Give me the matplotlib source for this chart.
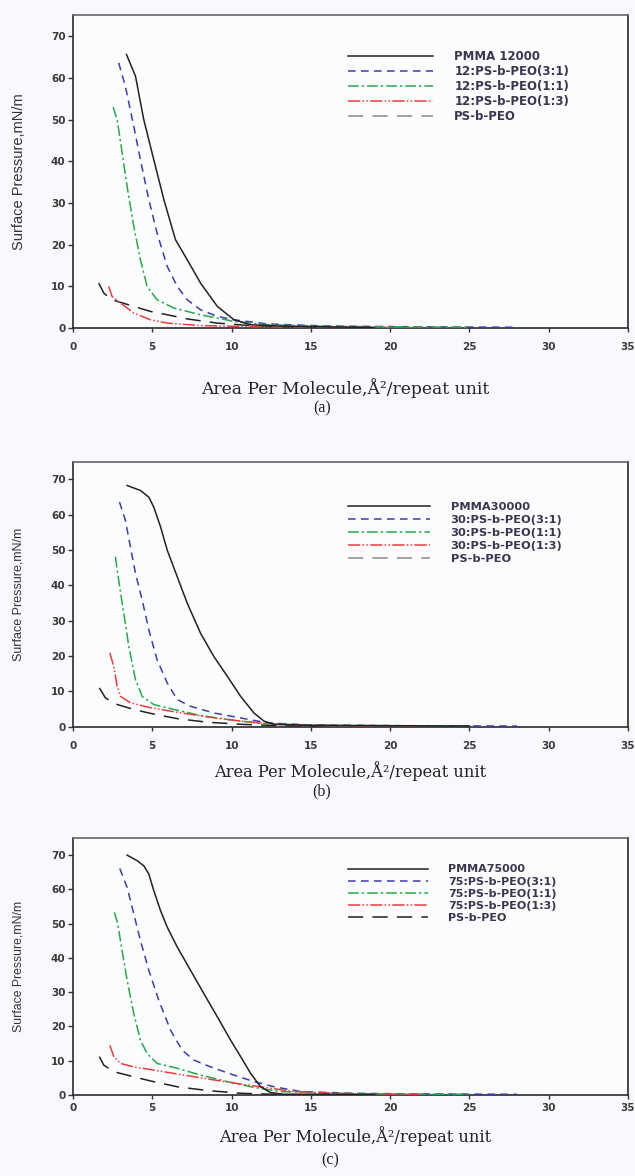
import matplotlib
matplotlib.use("Agg")
import matplotlib.pyplot as plt

# ---- data (x: area per molecule, y: surface pressure) ----
# panel (a)
a_labels = ["PMMA 12000", "12:PS-b-PEO(3:1)", "12:PS-b-PEO(1:1)", "12:PS-b-PEO(1:3)", "PS-b-PEO"]
a_pmma_x = [3.37, 3.94, 4.46, 5.09, 5.73, 6.46, 7.2, 8.04, 9.1, 10.15, 11.2, 13.0, 16.0, 19.0]
a_pmma_y = [65.6, 60.4, 50.0, 40.4, 30.8, 21.2, 16.4, 10.8, 5.2, 2.0, 0.8, 0.5, 0.3, 0.15]
a_31_x = [2.88, 3.3, 3.83, 4.25, 4.78, 5.3, 5.94, 6.57, 7.2, 8.04, 9.1, 10.15, 12.25, 16.0, 22.0, 28.0]
a_31_y = [63.6, 58.0, 48.4, 40.4, 30.8, 22.8, 14.8, 10.0, 6.8, 4.4, 2.8, 2.0, 1.0, 0.5, 0.3, 0.2]
a_11_x = [2.53, 2.78, 3.1, 3.41, 3.83, 4.25, 4.67, 5.3, 6.36, 8.04, 10.15, 12.25, 16.0, 20.0, 25.0]
a_11_y = [53.0, 50.0, 42.0, 34.0, 24.4, 16.4, 10.0, 6.8, 4.8, 3.2, 1.6, 0.8, 0.4, 0.3, 0.2]
a_13_x = [2.25, 2.46, 3.0, 3.83, 4.88, 5.94, 8.04, 12.0, 17.0, 22.0]
a_13_y = [10.0, 7.6, 6.0, 3.6, 2.0, 1.2, 0.6, 0.3, 0.2, 0.1]
a_peo_x = [1.62, 1.94, 2.46, 3.83, 4.88, 5.94, 7.2, 9.1, 11.2, 13.5, 16.0]
a_peo_y = [10.8, 8.4, 6.8, 5.2, 4.0, 3.2, 2.2, 1.2, 0.6, 0.3, 0.2]

# panel (b)
b_labels = ["PMMA30000", "30:PS-b-PEO(3:1)", "30:PS-b-PEO(1:1)", "30:PS-b-PEO(1:3)", "PS-b-PEO"]
b_pmma_x = [3.41, 4.25, 4.78, 5.09, 5.52, 5.94, 6.57, 7.2, 8.04, 8.88, 9.73, 10.57, 11.41, 12.04, 12.67, 15.0, 20.0, 25.0]
b_pmma_y = [68.3, 66.9, 65.0, 62.2, 56.6, 50.0, 42.5, 35.0, 26.5, 19.9, 14.3, 8.6, 3.9, 1.6, 0.7, 0.4, 0.3, 0.2]
b_31_x = [2.93, 3.3, 3.62, 3.94, 4.36, 4.78, 5.3, 5.94, 6.57, 7.41, 8.88, 10.57, 12.25, 15.0, 21.0, 28.0]
b_31_y = [63.6, 58.5, 50.9, 43.4, 35.9, 27.4, 19.0, 12.4, 7.7, 5.8, 3.9, 2.5, 1.1, 0.5, 0.3, 0.2]
b_11_x = [2.67, 2.88, 3.2, 3.52, 3.94, 4.36, 5.09, 6.36, 8.04, 10.15, 12.25, 16.0, 20.0, 25.0]
b_11_y = [48.1, 41.5, 32.1, 22.7, 13.3, 8.6, 6.3, 4.9, 3.2, 1.8, 0.8, 0.4, 0.3, 0.2]
b_13_x = [2.32, 2.57, 2.78, 3.0, 3.62, 4.88, 6.57, 8.46, 10.57, 12.67, 16.0, 22.0]
b_13_y = [20.9, 17.1, 11.5, 8.6, 6.8, 5.4, 4.1, 2.8, 1.6, 0.7, 0.3, 0.2]
b_peo_x = [1.66, 2.04, 2.57, 3.83, 4.88, 6.57, 8.46, 10.57, 13.0, 16.0]
b_peo_y = [11.0, 8.2, 6.6, 4.9, 3.8, 2.3, 1.3, 0.7, 0.3, 0.2]

# panel (c)
c_labels = ["PMMA75000", "75:PS-b-PEO(3:1)", "75:PS-b-PEO(1:1)", "75:PS-b-PEO(1:3)", "PS-b-PEO"]
c_pmma_x = [3.41, 4.04, 4.46, 4.78, 5.09, 5.52, 5.94, 6.57, 7.41, 8.25, 9.1, 9.94, 10.57, 11.2, 11.83, 12.46, 13.3, 16.0, 19.0]
c_pmma_y = [70.0, 68.4, 66.9, 64.5, 59.7, 53.8, 49.0, 43.2, 36.4, 29.6, 22.8, 16.0, 11.2, 6.3, 2.4, 0.7, 0.2, 0.2, 0.1]
c_31_x = [2.95, 3.41, 3.83, 4.25, 4.78, 5.41, 6.15, 6.88, 7.62, 8.67, 10.15, 11.41, 12.67, 14.36, 17.5, 22.0, 28.0]
c_31_y = [66.1, 60.6, 52.9, 45.1, 36.4, 27.6, 18.9, 13.1, 10.2, 8.2, 5.8, 3.9, 2.4, 1.0, 0.5, 0.3, 0.2]
c_11_x = [2.61, 2.82, 3.09, 3.41, 3.83, 4.25, 4.67, 5.3, 6.57, 8.04, 9.73, 11.41, 13.1, 16.0, 20.0, 25.0]
c_11_y = [53.3, 50.0, 42.2, 33.5, 23.8, 16.0, 12.1, 9.2, 7.8, 5.8, 3.9, 2.2, 1.0, 0.5, 0.3, 0.2]
c_13_x = [2.32, 2.57, 3.0, 3.83, 5.3, 6.99, 8.88, 10.57, 12.25, 13.94, 17.0, 22.0]
c_13_y = [14.5, 11.2, 9.2, 8.2, 7.1, 5.8, 4.4, 3.2, 2.1, 1.0, 0.4, 0.2]
c_peo_x = [1.66, 1.94, 2.57, 3.83, 4.88, 6.57, 8.46, 10.57, 13.3, 16.0]
c_peo_y = [11.2, 8.7, 6.8, 5.3, 4.1, 2.4, 1.3, 0.5, 0.1, 0.1]

X_TICKS = [0, 5, 10, 15, 20, 25, 30, 35]
Y_TICKS = [0, 10, 20, 30, 40, 50, 60, 70]

# ---- styles ----
BG = '#f8f9fc'
COLORS = ['#222222', '#3c3cb0', '#2aa84a', '#ee3c3c', '#222222']
STYLES = ['-', (0, (5, 3.5)), (0, (7, 2, 1.5, 2)), (0, (8, 1.5, 1, 1.5, 1, 1.5)), (0, (10, 6))]
ZORD = [6, 3, 4, 5, 2]
TICK_FONT = dict(family='DejaVu Sans', weight='bold', size=7.5)

fig = plt.figure(figsize=(6.35, 11.76), dpi=100, facecolor=BG)

panels = [
    # axes rect, data, labels, legend top, legend size, label spacing, x-pad,
    # xlabel pos, xlabel size, caption pos, ylabel size, gray PEO in legend, caption
    ([0.115, 0.721, 0.874, 0.266],
     [(a_pmma_x, a_pmma_y), (a_31_x, a_31_y), (a_11_x, a_11_y), (a_13_x, a_13_y), (a_peo_x, a_peo_y)],
     a_labels, 0.9575, 8.5, 0.17, 7, (345, 388), 12.3, (322, 408), 10.5, True, '(a)'),
    ([0.115, 0.382, 0.874, 0.2253],
     [(b_pmma_x, b_pmma_y), (b_31_x, b_31_y), (b_11_x, b_11_y), (b_13_x, b_13_y), (b_peo_x, b_peo_y)],
     b_labels, 0.5735, 8.2, 0.27, 7, (350, 771), 11.7, (322, 791), 9.0, True, '(b)'),
    ([0.115, 0.0689, 0.874, 0.2185],
     [(c_pmma_x, c_pmma_y), (c_31_x, c_31_y), (c_11_x, c_11_y), (c_13_x, c_13_y), (c_peo_x, c_peo_y)],
     c_labels, 0.2649, 8.0, 0.2, 3, (355, 1136), 11.7, (330, 1160), 8.8, False, '(c)'),
]

W, H = 635.0, 1176.0

for rect, series, labels, leg_top, leg_size, leg_sp, xpad, xl_pos, xl_size, cap_pos, yl_size, gray_peo, cap in panels:
    ax = fig.add_axes(rect)
    ax.set_facecolor('#fbfcfe')
    for i, (xs, ys) in enumerate(series):
        ax.plot(xs, ys, color=COLORS[i], linestyle=STYLES[i], lw=1.1,
                label=labels[i], zorder=ZORD[i])
    ax.set_xlim(0, 35)
    ax.set_ylim(0, 75)
    ax.set_xticks(X_TICKS)
    ax.set_yticks(Y_TICKS)
    ax.set_xticklabels([str(t) for t in X_TICKS], fontdict=TICK_FONT, color='#3a3a3a')
    ax.set_yticklabels([str(t) for t in Y_TICKS], fontdict=TICK_FONT, color='#3a3a3a')
    ax.tick_params(axis='x', direction='out', length=3, width=1, pad=xpad, color='#333333')
    ax.tick_params(axis='y', direction='out', length=3.5, width=1, pad=2, color='#333333')
    for side in ['left', 'bottom', 'right']:
        ax.spines[side].set_color('#2a2a2a')
        ax.spines[side].set_linewidth(1.2)
    ax.spines['top'].set_color('#666666')
    ax.spines['top'].set_linewidth(1.2)

    leg = ax.legend(loc='upper left', bbox_to_anchor=(348 / W, leg_top),
                    bbox_transform=fig.transFigure, frameon=False,
                    borderpad=0, borderaxespad=0, handlelength=7.2,
                    handletextpad=1.8, labelspacing=leg_sp,
                    prop=dict(family='DejaVu Sans', weight='bold', size=leg_size))
    for t in leg.get_texts():
        t.set_color('#3b3550')
    if gray_peo:
        leg.get_lines()[4].set_color('#8a8a8a')

    # y label and the serif x label / caption under each panel
    cy = rect[1] + rect[3] / 2
    fig.text(19 / W, cy, 'Surface Pressure,mN/m', rotation=90, ha='center', va='center',
             family='Liberation Sans', size=yl_size, color='#333333')
    fig.text(xl_pos[0] / W, 1 - xl_pos[1] / H, 'Area Per Molecule,Å²/repeat unit',
             ha='center', va='center', family='DejaVu Serif', size=xl_size, color='#222222')
    fig.text(cap_pos[0] / W, 1 - cap_pos[1] / H, cap, ha='center', va='center',
             family='Liberation Serif', size=11.5, color='#222222')

fig.savefig('out.png', dpi=100, facecolor=BG)
